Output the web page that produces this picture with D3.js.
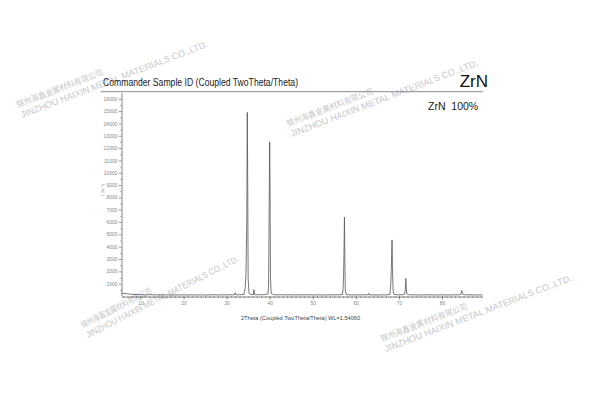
<!DOCTYPE html>
<html>
<head>
<meta charset="utf-8">
<script src="https://cdn.jsdelivr.net/npm/d3@7"></script>
<style>
  html, body { margin: 0; padding: 0; background: #fff; }
  svg { display: block; }
</style>
</head>
<body>
<div id="chart"></div>
<script>
// ---------- data ----------
const chartTitle = "Commander Sample ID (Coupled TwoTheta/Theta)";
const sampleName = "ZrN";
const phaseLegend = "ZrN\u00a0\u00a0100%";
const xAxisTitle = "2Theta (Coupled TwoTheta/Theta) WL=1.54060";
const yAxisTitle = "Lin (Counts)";
const xTickValues = [10, 20, 30, 40, 50, 60, 70, 80];
const yTickValues = [1000, 2000, 3000, 4000, 5000, 6000, 7000, 8000, 9000, 10000, 11000, 12000, 13000, 14000, 15000, 16000];
const xDomain = [5.6, 89.4];
const yDomain = [0, 16500];

const twoTheta = [
  5.6, 6, 7, 8, 9, 10, 11, 12, 13, 14, 15, 16, 17, 18, 19, 20, 21, 22, 23, 24, 25, 26, 27, 28, 29, 30, 31,
  31.8, 32.0, 32.2, 33, 34.0, 34.3, 34.5, 34.68, 34.8, 34.9, 35.0, 35.2, 35.6,
  36.2, 36.35, 36.5, 37, 38, 39, 39.6, 39.75, 39.87, 40.0, 40.08, 40.18, 40.35, 40.8,
  41, 42, 43, 44, 45, 46, 47, 48, 49, 50, 51, 52, 53, 54, 55, 56,
  56.9, 57.05, 57.15, 57.25, 57.35, 57.45, 57.55, 57.75, 58, 59, 60, 61, 62,
  62.9, 63.0, 63.1, 64, 65, 66, 67,
  67.9, 68.1, 68.25, 68.4, 68.5, 68.65, 68.85, 69.5, 70, 71,
  71.3, 71.5, 71.6, 71.7, 71.85, 72.2, 73, 74, 75, 76, 77, 78, 79, 80, 81, 82, 83, 84,
  84.4, 84.6, 84.72, 84.9, 85.5, 86, 87, 88, 89, 89.4
];
const counts = [
  260, 210, 170, 140, 120, 110, 95, 105, 90, 100, 85, 95, 80, 90, 85, 95, 80, 90, 85, 95, 80, 90, 100, 85, 95, 90, 100,
  95, 260, 100, 105, 120, 600, 1850, 6000, 14900, 9000, 1400, 200, 120,
  110, 520, 110, 105, 100, 120, 160, 900, 7100, 12500, 8900, 1500, 200, 120,
  100, 95, 105, 90, 100, 85, 95, 90, 100, 85, 95, 90, 85, 95, 90, 100,
  120, 600, 1600, 3600, 6400, 3000, 500, 130, 100, 90, 95, 85, 95,
  100, 210, 95, 90, 85, 95, 90,
  120, 900, 2300, 4550, 2200, 400, 130, 100, 90, 110,
  140, 500, 1430, 650, 180, 110, 90, 95, 85, 90, 95, 85, 90, 95, 85, 90, 95, 100,
  140, 450, 250, 120, 100, 90, 95, 85, 90, 95
];

const watermarkCn = "锦州海鑫金属材料有限公司";
const watermarkEn = "JINZHOU HAIXIN METAL MATERIALS CO.,LTD.";
// [x, y, angle, english length]
const watermarkAnchors = [[22, 118, -21, 200], [292, 137, -21, 200], [88, 338, -27, 170], [386, 352, -21, 200]];

// ---------- drawing ----------
const W = 600, H = 416;
const svg = d3.select("#chart").append("svg")
  .attr("width", W).attr("height", H)
  .attr("font-family", "'Liberation Sans', Arial, sans-serif");

svg.append("rect").attr("width", W).attr("height", H).attr("fill", "#fff");

// watermarks
const wm = svg.append("g").attr("class", "watermarks");
watermarkAnchors.forEach(([ax, ay, ang, len]) => {
  const g = wm.append("g").attr("transform", `translate(${ax},${ay}) rotate(${ang})`);
  g.append("text").attr("x", 0).attr("y", -11)
    .attr("font-family", "'Noto Sans CJK SC', sans-serif")
    .attr("font-size", 8.5).attr("fill", "#c8c8c8")
    .attr("textLength", len * 0.46).attr("lengthAdjust", "spacingAndGlyphs")
    .text(watermarkCn);
  g.append("text").attr("x", 0).attr("y", 0)
    .attr("font-size", 9).attr("fill", "#c8c8c8")
    .attr("textLength", len).attr("lengthAdjust", "spacingAndGlyphs")
    .text(watermarkEn);
});

const x = d3.scaleLinear().domain(xDomain).range([121.5, 482.5]);
const y = d3.scaleLinear().domain(yDomain).range([296, 92.6]);

// header
svg.append("text").attr("x", 103).attr("y", 85.5)
  .attr("font-size", 10).attr("fill", "#1a1a1a")
  .attr("textLength", 195).attr("lengthAdjust", "spacingAndGlyphs")
  .text(chartTitle);
svg.append("text").attr("x", 488).attr("y", 87)
  .attr("text-anchor", "end").attr("font-size", 17).attr("fill", "#111")
  .text(sampleName);
svg.append("line").attr("x1", 101).attr("x2", 483).attr("y1", 91.7).attr("y2", 91.7)
  .attr("stroke", "#8a8a8a").attr("stroke-width", 1);
svg.append("text").attr("x", 428).attr("y", 109.5)
  .attr("font-size", 10.5).attr("fill", "#1a1a1a")
  .text(phaseLegend);

// axes
const axisColor = "#666";
const gx = svg.append("g").attr("transform", `translate(0,${y(0) + 0.5})`)
  .call(d3.axisBottom(x).tickValues(xTickValues).tickSize(3).tickSizeOuter(0).tickPadding(2));
const gxm = svg.append("g").attr("transform", `translate(0,${y(0) + 0.5})`)
  .call(d3.axisBottom(x).tickValues(d3.range(6, 90, 1)).tickSize(1.5).tickFormat(""));
const gy = svg.append("g").attr("transform", `translate(${x(xDomain[0])},0)`)
  .call(d3.axisLeft(y).tickValues(yTickValues).tickFormat(d3.format("d"))
    .tickSize(2.5).tickSizeOuter(0).tickPadding(1.5));
const gym = svg.append("g").attr("transform", `translate(${x(xDomain[0])},0)`)
  .call(d3.axisLeft(y).tickValues(d3.range(500, 16500, 1000)).tickSize(1.2).tickFormat(""));
[gx, gxm, gy, gym].forEach(g => {
  g.select(".domain").attr("stroke", axisColor).attr("stroke-width", 0.8);
  g.selectAll(".tick line").attr("stroke", axisColor).attr("stroke-width", 0.7);
  g.selectAll(".tick text").attr("fill", "#888").attr("font-size", 5)
    .attr("font-family", "'Liberation Sans', Arial, sans-serif");
});
gxm.select(".domain").remove();
gym.select(".domain").remove();

// axis titles
svg.append("text").attr("x", 300.5).attr("y", 320)
  .attr("text-anchor", "middle").attr("font-size", 6).attr("fill", "#444")
  .attr("textLength", 119).attr("lengthAdjust", "spacingAndGlyphs")
  .text(xAxisTitle);
svg.append("text").attr("transform", "translate(104,190) rotate(-90)")
  .attr("text-anchor", "middle").attr("font-size", 4).attr("fill", "#666")
  .attr("textLength", 12).attr("lengthAdjust", "spacingAndGlyphs")
  .text(yAxisTitle);

// diffraction pattern
const pts = twoTheta.map((t, i) => [t, counts[i]]);
svg.append("path").datum(pts)
  .attr("d", d3.line().x(d => x(d[0])).y(d => y(d[1])))
  .attr("fill", "none").attr("stroke", "#555").attr("stroke-width", 0.8)
  .attr("stroke-linejoin", "round");
</script>
</body>
</html>
